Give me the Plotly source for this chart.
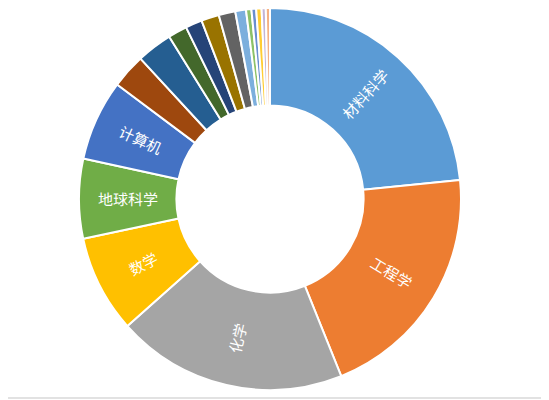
import math

import plotly.graph_objects as go

# 学科分布（环形图），顺时针从12点方向开始
subjects = ['材料科学', '工程学', '化学', '数学', '地球科学', '计算机',
            '其他1', '其他2', '其他3', '其他4', '其他5', '其他6',
            '其他7', '其他8', '其他9', '其他10', '其他11', '其他12']
shares = [23.3, 20.4, 19.4, 8.2, 6.7, 6.8,
          2.9, 3.0, 1.6, 1.4, 1.5, 1.4,
          0.9, 0.45, 0.4, 0.45, 0.35, 0.35]
shown_labels = ['材料科学', '工程学', '化学', '数学', '地球科学', '计算机'] + [''] * 12
slice_colors = ['#5B9BD5', '#ED7D31', '#A5A5A5', '#FFC000', '#70AD47', '#4472C4',
                '#9E480E', '#255E91', '#43682B', '#264478', '#997300', '#636363',
                '#7CAFDD', '#8CC168', '#698ED0', '#FFCD33', '#C3B5D6', '#F4B183']

W, H = 549, 400
cx, cy, r = 262, 191, 191  # 像素位置（页面body有8px边距）
hole = 0.49

fig = go.Figure()
fig.add_trace(go.Pie(
    labels=subjects, values=shares, textinfo='none',
    hole=hole, sort=False, direction='clockwise', rotation=0,
    marker=dict(colors=slice_colors, line=dict(color='white', width=2)),
    hoverinfo='label+percent',
    domain=dict(x=[(cx - r) / W, (cx + r) / W],
                y=[max(0, (H - cy - r) / H), min(1, (H - cy + r) / H)]),
))

# 扇区内的径向标签（Excel风格）
total = sum(shares)
start = 0.0
rm = r * (1 + hole) / 2
for name, v in zip(shown_labels, shares):
    mid = (start + v / 2) / total * 360
    start += v
    if not name:
        continue
    a = math.radians(mid)
    px = cx + rm * math.sin(a)
    py = cy - rm * math.cos(a)
    ang = mid - 90 if mid < 180 else mid - 270
    fig.add_annotation(x=px / W, y=1 - py / H, xref='paper', yref='paper',
                       xanchor='center', yanchor='middle',
                       text=name, showarrow=False, textangle=ang,
                       font=dict(family='Noto Sans CJK SC', size=15, color='white'))

# 截图底部/右侧的浅灰边框
fig.add_shape(type='line', xref='paper', yref='paper', x0=0, x1=1, y0=0.025, y1=0.025,
              line=dict(color='#D9D9D9', width=1.5))
fig.add_shape(type='line', xref='paper', yref='paper', x0=0.982, x1=0.982, y0=0.025, y1=1,
              line=dict(color='#F0F0F0', width=1))

fig.update_layout(
    width=W, height=H, showlegend=False,
    margin=dict(l=0, r=0, t=0, b=0),
    paper_bgcolor='white', plot_bgcolor='white',
)

fig.write_html('out.html')
